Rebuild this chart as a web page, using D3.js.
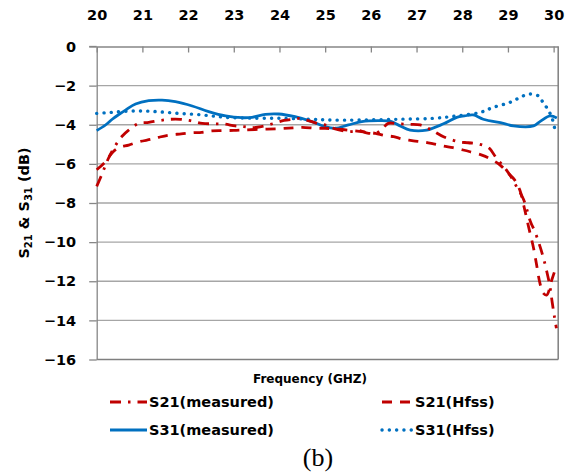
<!DOCTYPE html>
<html>
<head>
<meta charset="utf-8">
<script src="https://cdn.jsdelivr.net/npm/d3@7"></script>
<style>
  html, body { margin: 0; padding: 0; background: #fff; }
  svg { display: block; }
</style>
</head>
<body>
<svg id="chart" width="574" height="473"></svg>
<script>
// ---------- data ----------
const xTicks = [20, 21, 22, 23, 24, 25, 26, 27, 28, 29, 30];
const yTicks = [0, -2, -4, -6, -8, -10, -12, -14, -16];

const s21mFreq = [20.0, 20.12, 20.25, 20.4, 20.55, 20.7, 20.92, 21.14, 21.36, 21.61, 21.83, 22.05, 22.31, 22.55, 22.78, 23.03, 23.22, 23.4, 23.6, 23.85, 24.1, 24.3, 24.45, 24.65, 24.85, 25.03, 25.2, 25.5, 25.76, 25.9, 26.1, 26.24, 26.38, 26.6, 26.82, 27.08, 27.33, 27.59, 27.92, 28.13, 28.35, 28.59, 28.75, 28.9, 29.05, 29.19, 29.34, 29.5, 29.58, 29.68, 29.77, 29.85, 29.92, 29.97, 30.02, 30.06];
const s21m = [-7.15, -6.5, -5.75, -5.1, -4.6, -4.27, -3.93, -3.88, -3.79, -3.72, -3.72, -3.79, -3.93, -3.95, -3.96, -4.06, -4.1, -4.15, -4.1, -3.95, -3.78, -3.72, -3.68, -3.8, -3.95, -4.03, -4.2, -4.35, -4.3, -4.41, -4.44, -4.23, -3.93, -3.95, -3.98, -4.01, -4.27, -4.61, -4.87, -4.92, -4.98, -5.2, -5.72, -6.11, -6.6, -7.17, -7.81, -9.0, -9.4, -10.06, -10.75, -11.5, -12.28, -13.1, -13.85, -14.4];

const s21hFreq = [20.0, 20.19, 20.35, 20.5, 20.7, 20.92, 21.2, 21.36, 21.6, 21.85, 22.1, 22.3, 22.5, 22.75, 23.0, 23.2, 23.6, 24.0, 24.3, 24.5, 24.8, 25.0, 25.3, 25.6, 25.9, 26.1, 26.3, 26.5, 26.7, 26.93, 27.15, 27.37, 27.59, 27.8, 28.02, 28.17, 28.43, 28.6, 28.83, 28.97, 29.15, 29.26, 29.36, 29.45, 29.56, 29.63, 29.7, 29.77, 29.85, 29.95, 30.05];
const s21h = [-6.3, -5.89, -5.4, -5.15, -5.04, -4.87, -4.74, -4.64, -4.52, -4.47, -4.41, -4.39, -4.32, -4.3, -4.29, -4.27, -4.23, -4.2, -4.16, -4.13, -4.18, -4.18, -4.23, -4.3, -4.38, -4.44, -4.55, -4.61, -4.74, -4.82, -4.88, -4.98, -5.09, -5.17, -5.29, -5.38, -5.55, -5.72, -6.06, -6.4, -6.83, -7.34, -8.27, -9.2, -10.3, -11.2, -12.1, -12.6, -12.7, -12.0, -11.3];

const s31mFreq = [20.0, 20.2, 20.34, 20.5, 20.63, 20.85, 21.14, 21.43, 21.72, 22.09, 22.45, 22.82, 23.18, 23.4, 23.69, 23.98, 24.34, 24.71, 25.0, 25.22, 25.51, 25.8, 26.16, 26.42, 26.64, 26.86, 27.22, 27.59, 27.88, 28.05, 28.24, 28.46, 28.9, 29.12, 29.56, 29.7, 29.92, 30.07];
const s31m = [-4.3, -4.0, -3.72, -3.45, -3.25, -2.94, -2.77, -2.74, -2.82, -3.04, -3.33, -3.55, -3.64, -3.62, -3.47, -3.45, -3.59, -3.84, -4.1, -4.18, -4.01, -3.84, -3.79, -3.82, -4.06, -4.27, -4.27, -3.95, -3.62, -3.55, -3.5, -3.72, -3.93, -4.06, -4.06, -3.84, -3.55, -3.65];

const s31hFreq = [20.0, 20.3, 20.7, 21.07, 21.43, 21.8, 22.16, 22.52, 22.82, 23.3, 23.98, 24.7, 25.14, 25.73, 26.6, 27.37, 27.88, 28.39, 28.68, 29.05, 29.34, 29.48, 29.67, 29.77, 29.87, 29.96, 30.03];
const s31h = [-3.42, -3.37, -3.3, -3.3, -3.35, -3.42, -3.47, -3.55, -3.62, -3.66, -3.67, -3.72, -3.76, -3.76, -3.72, -3.67, -3.55, -3.37, -3.11, -2.85, -2.52, -2.43, -2.53, -2.87, -3.2, -3.62, -4.27];

const seriesNames = ["S21(measured)", "S21(Hfss)", "S31(measured)", "S31(Hfss)"];

// ---------- layout ----------
const svg = d3.select("#chart");
const x = d3.scaleLinear().domain([20, 30.1]).range([96.7, 558.2]);
const y = d3.scaleLinear().domain([0, -16]).range([46.5, 359.5]);
const FONT = "'DejaVu Sans', Verdana, sans-serif";

// gridlines
svg.append("g").selectAll("line")
  .data(yTicks.filter(v => v !== 0 && v !== -16))
  .join("line")
  .attr("x1", x(20)).attr("x2", x(30.1))
  .attr("y1", d => y(d)).attr("y2", d => y(d))
  .attr("stroke", "#a6a6a6").attr("stroke-width", 1.3);

// border right + bottom
svg.append("line").attr("x1", x(30.1)).attr("x2", x(30.1)).attr("y1", y(0)).attr("y2", y(-16))
  .attr("stroke", "#7f7f7f").attr("stroke-width", 1.5);
svg.append("line").attr("x1", x(20)).attr("x2", x(30.1)).attr("y1", y(-16)).attr("y2", y(-16))
  .attr("stroke", "#7f7f7f").attr("stroke-width", 1.5);

// top axis (x)
const xAxis = d3.axisTop(x).tickValues(xTicks).tickSizeInner(-6).tickSizeOuter(0).tickPadding(32);
const gx = svg.append("g").attr("transform", `translate(0,${y(0)})`).call(xAxis);
gx.select(".domain").attr("stroke", "#868686").attr("stroke-width", 1.3);
gx.selectAll(".tick line").attr("stroke", "#868686").attr("stroke-width", 1.3);
gx.selectAll(".tick text").attr("font-family", FONT).attr("font-weight", "bold")
  .attr("font-size", "14.5px").attr("fill", "#000").attr("dy", 0)
  .attr("y", -26.5);

// left axis (y)
const yAxis = d3.axisLeft(y).tickValues(yTicks).tickSizeInner(7.5).tickSizeOuter(0).tickPadding(13);
const gy = svg.append("g").attr("transform", `translate(${x(20)},0)`).call(yAxis);
gy.select(".domain").attr("stroke", "#868686").attr("stroke-width", 1.3);
gy.selectAll(".tick line").attr("stroke", "#868686").attr("stroke-width", 1.3);
gy.selectAll(".tick text").attr("font-family", FONT).attr("font-weight", "bold")
  .attr("font-size", "14.5px").attr("fill", "#000");
// top-left tick extension for top axis line
svg.append("line").attr("x1", x(20) - 7.5).attr("x2", x(20)).attr("y1", y(0)).attr("y2", y(0))
  .attr("stroke", "#868686").attr("stroke-width", 1.3);

// y-axis title with subscripts
const yt = svg.append("text")
  .attr("transform", `translate(29,${(y(0) + y(-16)) / 2}) rotate(-90)`)
  .attr("text-anchor", "middle")
  .attr("font-family", FONT).attr("font-weight", "bold").attr("font-size", "14.5px").attr("fill", "#000");
yt.append("tspan").text("S");
yt.append("tspan").text("21").attr("font-size", "10px").attr("dy", 3);
yt.append("tspan").text(" & S").attr("dy", -3);
yt.append("tspan").text("31").attr("font-size", "10px").attr("dy", 3);
yt.append("tspan").text(" (dB)").attr("dy", -3);

// ---------- lines ----------
const RED = "#c00000", BLUE = "#0070c0";
const styles = [
  { color: RED, dash: "11,7,2.5,7", cap: "butt", width: 2.8 },
  { color: RED, dash: "10,8", cap: "butt", width: 2.8 },
  { color: BLUE, dash: null, cap: "butt", width: 2.8 },
  { color: BLUE, dash: "0.1,7.2", cap: "round", width: 3.4 }
];
const datasets = [
  d3.zip(s21mFreq, s21m),
  d3.zip(s21hFreq, s21h),
  d3.zip(s31mFreq, s31m),
  d3.zip(s31hFreq, s31h)
];
const line = d3.line().x(d => x(d[0])).y(d => y(d[1])).curve(d3.curveCatmullRom.alpha(0.5));

const drawOrder = [2, 3, 0, 1];
drawOrder.forEach(i => {
  const s = styles[i];
  svg.append("path").datum(datasets[i])
    .attr("d", line)
    .attr("fill", "none")
    .attr("stroke", s.color)
    .attr("stroke-width", s.width)
    .attr("stroke-linecap", s.cap)
    .attr("stroke-linejoin", "round")
    .attr("stroke-dasharray", s.dash);
});

// x-axis title
svg.append("text").attr("x", 310).attr("y", 383).attr("text-anchor", "middle")
  .attr("font-family", FONT).attr("font-weight", "bold").attr("font-size", "12px").attr("fill", "#000")
  .text("Frequency (GHZ)");

// legend
const legendPos = [
  { lx: 110, ly: 402, tx: 149, ty: 407 },
  { lx: 382, ly: 402, tx: 415, ty: 407 },
  { lx: 110, ly: 430, tx: 149, ty: 435 },
  { lx: 382, ly: 430, tx: 415, ty: 435 }
];
seriesNames.forEach((name, i) => {
  const p = legendPos[i], s = styles[i];
  const len = i % 2 === 0 ? 37 : 31;
  svg.append("line").attr("x1", p.lx).attr("x2", p.lx + len).attr("y1", p.ly).attr("y2", p.ly)
    .attr("stroke", s.color).attr("stroke-width", s.width)
    .attr("stroke-linecap", s.cap).attr("stroke-dasharray", s.dash);
  svg.append("text").attr("x", p.tx).attr("y", p.ty)
    .attr("font-family", FONT).attr("font-weight", "bold").attr("font-size", "14.5px").attr("fill", "#000")
    .text(name);
});

// caption
svg.append("text").attr("x", 318).attr("y", 466).attr("text-anchor", "middle")
  .attr("font-family", "'Liberation Serif', 'Times New Roman', serif").attr("font-size", "26px").attr("fill", "#000")
  .text("(b)");
</script>
</body>
</html>
